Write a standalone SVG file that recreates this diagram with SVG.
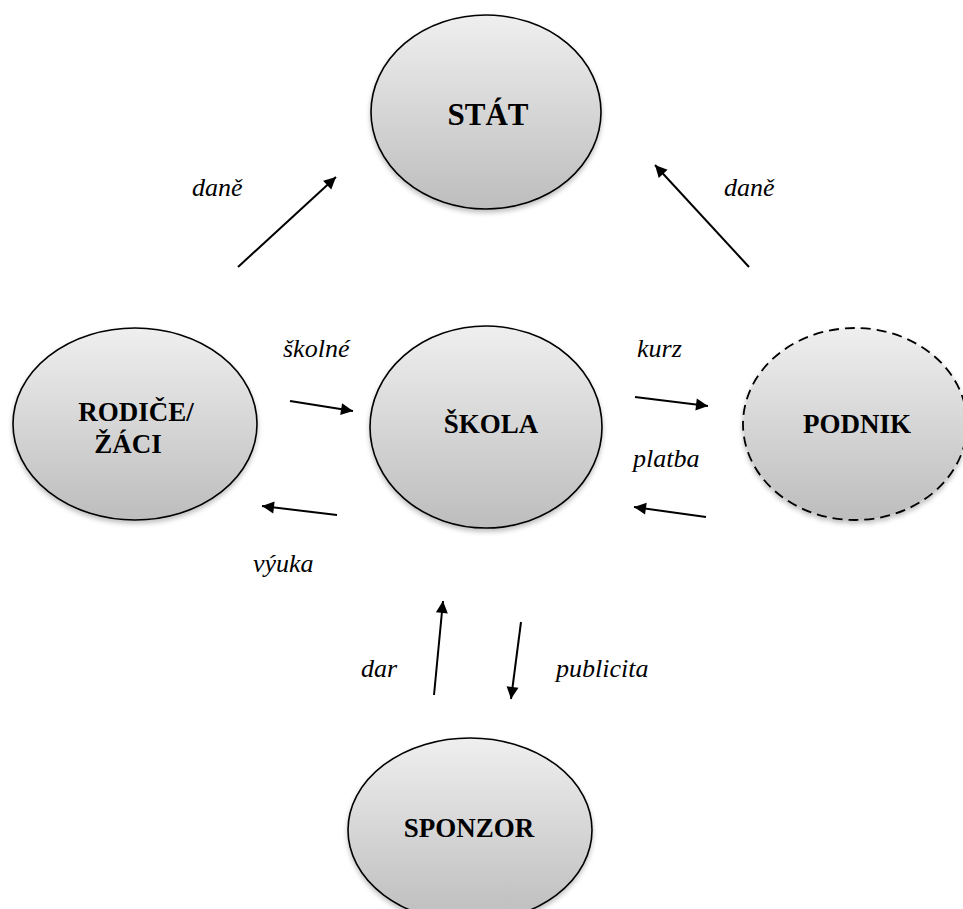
<svg xmlns="http://www.w3.org/2000/svg" width="963" height="909" viewBox="0 0 963 909">
<defs>
<linearGradient id="g" x1="0" y1="0" x2="0" y2="1">
<stop offset="0" stop-color="#efefef"/>
<stop offset="1" stop-color="#bdbdbd"/>
</linearGradient>
<filter id="sh" x="-10%" y="-10%" width="120%" height="125%">
<feGaussianBlur in="SourceAlpha" stdDeviation="2.5"/>
<feOffset dx="0" dy="3" result="b"/>
<feComponentTransfer><feFuncA type="linear" slope="0.25"/></feComponentTransfer>
<feMerge><feMergeNode/><feMergeNode in="SourceGraphic"/></feMerge>
</filter>
<marker id="ah" viewBox="0 0 10 10" refX="10" refY="5" markerWidth="15" markerHeight="12" markerUnits="userSpaceOnUse" orient="auto" overflow="visible">
<path d="M0,0 L10,5 L0,10 Z" fill="#000"/>
</marker>
</defs>
<style>
.node{fill:url(#g);stroke:#000;stroke-width:1.6;filter:url(#sh)}
.dash{stroke-dasharray:10 6;stroke-width:1.8}
.t{font-family:"Liberation Serif","Times New Roman",serif;font-weight:bold;font-size:27px;text-anchor:middle;fill:#000}
.l{font-family:"Liberation Serif","Times New Roman",serif;font-style:italic;font-size:26px;fill:#000}
.c line{stroke:#000;stroke-width:2;marker-end:url(#ah)}
</style>
<rect width="963" height="909" fill="#fff"/>
<g id="stat"><ellipse class="node" cx="486" cy="112" rx="115" ry="97"/><text class="t" x="488" y="125" style="font-size:31px">STÁT</text></g>
<g id="rodice"><ellipse class="node" cx="135" cy="424" rx="122" ry="96"/><text class="t" x="136" y="421">RODIČE/</text><text class="t" x="128" y="453">ŽÁCI</text></g>
<g id="skola"><ellipse class="node" cx="486" cy="427" rx="116" ry="101"/><text class="t" x="491" y="433">ŠKOLA</text></g>
<g id="podnik"><ellipse class="node dash" cx="855" cy="424" rx="112" ry="96"/><text class="t" x="857" y="433">PODNIK</text></g>
<g id="sponzor"><ellipse class="node" cx="470" cy="830" rx="122" ry="92"/><text class="t" x="469" y="837">SPONZOR</text></g>
<g id="connectors" class="c">
<line x1="238" y1="267" x2="336" y2="177"/>
<line x1="749" y1="267" x2="655" y2="165"/>
<line x1="290" y1="401" x2="353" y2="411"/>
<line x1="337" y1="515" x2="262" y2="506"/>
<line x1="635" y1="397" x2="708" y2="406"/>
<line x1="706" y1="517" x2="634" y2="507"/>
<line x1="434" y1="695" x2="443" y2="601"/>
<line x1="521" y1="622" x2="511" y2="699"/>
</g>
<g id="labels">
<text class="l" x="192" y="196">daně</text>
<text class="l" x="724" y="196">daně</text>
<text class="l" x="283" y="357">školné</text>
<text class="l" x="637" y="357">kurz</text>
<text class="l" x="633" y="467">platba</text>
<text class="l" x="253" y="572">výuka</text>
<text class="l" x="361" y="677">dar</text>
<text class="l" x="556" y="677">publicita</text>
</g>
</svg>
